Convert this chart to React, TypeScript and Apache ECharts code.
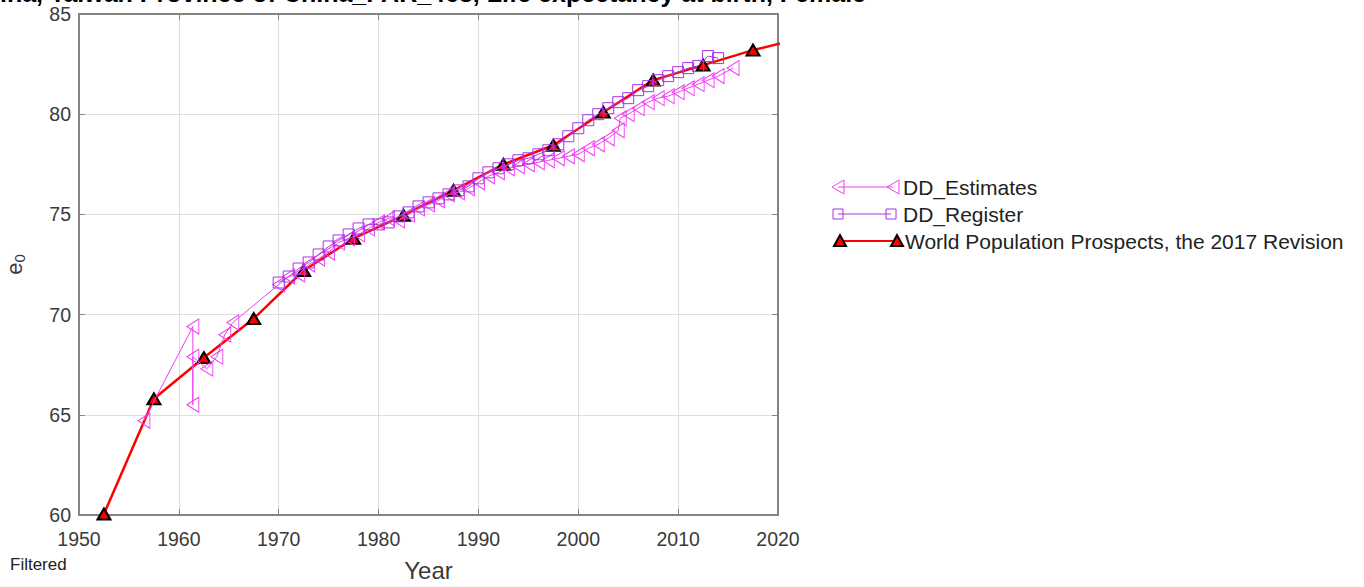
import React, { useEffect, useRef } from "react";
import * as echarts from "echarts";

// ---- Data ----
const wppYears = [1952.5, 1957.5, 1962.5, 1967.5, 1972.5, 1977.5, 1982.5, 1987.5, 1992.5, 1997.5, 2002.5, 2007.5, 2012.5, 2017.5, 2022.5];
const wppValues = [60.05, 65.8, 67.85, 69.8, 72.2, 73.8, 74.95, 76.2, 77.5, 78.45, 80.1, 81.7, 82.45, 83.2, 83.8];

const estYears = [
  1956.5, 1961.4, 1961.4, 1961.4, 1962.8, 1963.8, 1964.6, 1965.4,
  1970, 1971, 1972, 1973, 1974, 1975, 1976, 1977, 1978, 1979, 1980, 1981, 1982, 1983, 1984, 1985, 1986, 1987, 1988, 1989, 1990, 1991, 1992, 1993,
  1994, 1995, 1996, 1997, 1998, 1999, 2000, 2001, 2002, 2003, 2004,
  2004.2, 2005, 2006, 2007, 2008, 2009, 2010, 2011, 2012, 2013, 2014, 2015.5,
];
const estValues = [
  64.7, 69.4, 65.5, 67.9, 67.3, 67.9, 69.0, 69.6,
  71.5, 71.9, 72.0, 72.5, 72.8, 73.1, 73.6, 73.8, 74.0, 74.3, 74.6, 74.8, 74.7, 75.0, 75.3, 75.5, 75.7, 76.0, 76.1, 76.3, 76.6, 76.9, 77.1, 77.3,
  77.4, 77.5, 77.6, 77.7, 77.8, 77.9, 78.0, 78.3, 78.5, 78.8, 79.2,
  79.8, 80.0, 80.3, 80.6, 80.8, 80.9, 81.1, 81.3, 81.5, 81.7, 81.9, 82.3,
];

const regYears = [
  1970, 1971, 1972, 1973, 1974, 1975, 1976, 1977, 1978, 1979, 1980, 1981, 1982, 1983, 1984, 1985, 1986, 1987, 1988, 1989,
  1990, 1991, 1992, 1993, 1994, 1995, 1996, 1997, 1998, 1999, 2000, 2001, 2002, 2003, 2004, 2005, 2006, 2007, 2008, 2009,
  2010, 2011, 2012, 2013, 2014,
];
const regValues = [
  71.6, 71.9, 72.3, 72.6, 73.0, 73.4, 73.7, 74.0, 74.3, 74.5, 74.5, 74.6, 74.9, 75.1, 75.4, 75.6, 75.8, 76.0, 76.2, 76.4,
  76.8, 77.1, 77.3, 77.5, 77.7, 77.8, 78.0, 78.2, 78.5, 78.9, 79.3, 79.7, 80.0, 80.3, 80.6, 80.8, 81.2, 81.4, 81.7, 81.9,
  82.1, 82.3, 82.4, 82.9, 82.8,
];

const xTicks = { min: 1950, max: 2020, interval: 10 };
const yTicks = { min: 60, max: 85, interval: 5 };

const titleText = "China, Taiwan Province of China_PAR_463, Life expectancy at birth, Female";
const legendNames = ["DD_Estimates", "DD_Register", "World Population Prospects, the 2017 Revision"];

const EST_COLOR = "#ee40f0";
const REG_COLOR = "#a834e6";
const WPP_COLOR = "#ff0000";
const AXIS_COLOR = "#858585";
const LABEL_COLOR = "#3a3a3a";
const FONT = "'Liberation Sans', Arial, sans-serif";

const leftTri = "path://M12,0L0,7L12,14Z";

export default function App() {
  const ref = useRef<HTMLDivElement>(null);

  useEffect(() => {
    if (!ref.current) return;
    const chart = echarts.init(ref.current, undefined, { renderer: "svg" });

    const zip = (xs: number[], ys: number[]) => xs.map((x, i) => [x, ys[i]]);

    const axisCommon = {
      type: "value" as const,
      axisLine: { show: true, onZero: false, lineStyle: { color: AXIS_COLOR, width: 2 } },
      axisTick: { show: true, inside: true, length: 6, lineStyle: { color: AXIS_COLOR, width: 1 } },
    };

    const legendY = [187, 214, 241];
    const graphics: any[] = [
      {
        type: "text",
        style: {
          text: titleText,
          x: 866,
          y: 5,
          align: "right",
          verticalAlign: "bottom",
          font: `bold 25px ${FONT}`,
          fill: "#000",
        },
      },
      {
        type: "text",
        style: { text: "Filtered", x: 10, y: 564, verticalAlign: "middle", font: `17px ${FONT}`, fill: "#222" },
      },
      // legend row 1
      { type: "line", shape: { x1: 838, y1: legendY[0], x2: 893, y2: legendY[0] }, style: { stroke: EST_COLOR, lineWidth: 1 } },
      { type: "polygon", shape: { points: [[844, 180], [832, 187], [844, 194]] }, style: { stroke: EST_COLOR, fill: "none", lineWidth: 1 } },
      { type: "polygon", shape: { points: [[899, 180], [887, 187], [899, 194]] }, style: { stroke: EST_COLOR, fill: "none", lineWidth: 1 } },
      // legend row 2
      { type: "line", shape: { x1: 838, y1: legendY[1], x2: 891, y2: legendY[1] }, style: { stroke: REG_COLOR, lineWidth: 1 } },
      { type: "rect", shape: { x: 833, y: 209, width: 10, height: 10 }, style: { stroke: REG_COLOR, fill: "none", lineWidth: 1 } },
      { type: "rect", shape: { x: 886, y: 209, width: 10, height: 10 }, style: { stroke: REG_COLOR, fill: "none", lineWidth: 1 } },
      // legend row 3
      { type: "line", shape: { x1: 840, y1: legendY[2], x2: 897, y2: legendY[2] }, style: { stroke: WPP_COLOR, lineWidth: 2 } },
      { type: "polygon", shape: { points: [[834, 246], [846, 246], [840, 235]] }, style: { stroke: "#000", fill: WPP_COLOR, lineWidth: 2 } },
      { type: "polygon", shape: { points: [[891, 246], [903, 246], [897, 235]] }, style: { stroke: "#000", fill: WPP_COLOR, lineWidth: 2 } },
    ];
    legendNames.forEach((n, i) => {
      graphics.push({
        type: "text",
        style: { text: n, x: i === 2 ? 905 : 903, y: legendY[i], verticalAlign: "middle", font: `21px ${FONT}`, fill: "#222" },
      });
    });

    chart.setOption({
      animation: false,
      backgroundColor: "#ffffff",
      textStyle: { fontFamily: FONT },
      grid: { left: 79, right: 586, top: 14, bottom: 72, containLabel: false, outerBoundsMode: "none" },
      xAxis: [
        {
          ...axisCommon,
          position: "bottom",
          ...xTicks,
          axisLabel: { color: LABEL_COLOR, fontSize: 19.5, margin: 14, fontFamily: FONT, formatter: (v: number) => String(v) },
          splitLine: { show: true, lineStyle: { color: "#dedede", width: 1 } },
          name: "Year",
          nameLocation: "middle",
          nameGap: 43,
          nameTextStyle: { color: LABEL_COLOR, fontSize: 24, fontFamily: FONT },
        },
        {
          ...axisCommon,
          position: "top",
          ...xTicks,
          axisLabel: { show: false },
          splitLine: { show: false },
        },
      ],
      yAxis: [
        {
          ...axisCommon,
          position: "left",
          ...yTicks,
          axisLabel: { color: LABEL_COLOR, fontSize: 19.5, margin: 8, fontFamily: FONT, formatter: (v: number) => String(v) },
          splitLine: { show: true, lineStyle: { color: "#dedede", width: 1 } },
          name: "{e|e}{s|0}",
          nameLocation: "middle",
          nameRotate: 90,
          nameGap: 52,
          nameTextStyle: {
            color: LABEL_COLOR,
            rich: {
              e: { fontSize: 22, color: LABEL_COLOR, fontFamily: FONT },
              s: { fontSize: 15, color: LABEL_COLOR, fontFamily: FONT, padding: [10, 0, 0, 0] },
            },
          },
        },
        {
          ...axisCommon,
          position: "right",
          ...yTicks,
          axisLabel: { show: false },
          splitLine: { show: false },
        },
      ],
      series: [
        {
          name: legendNames[2],
          type: "line",
          data: zip(wppYears, wppValues),
          clip: true,
          symbol: "triangle",
          symbolSize: [13, 11],
          lineStyle: { color: WPP_COLOR, width: 2.5 },
          itemStyle: { color: WPP_COLOR, borderColor: "#000", borderWidth: 2 },
          z: 2,
        },
        {
          name: legendNames[0],
          type: "line",
          data: zip(estYears, estValues),
          clip: true,
          symbol: leftTri,
          symbolSize: [12, 15],
          lineStyle: { color: EST_COLOR, width: 1 },
          itemStyle: { color: "rgba(0,0,0,0)", borderColor: EST_COLOR, borderWidth: 1 },
          z: 3,
        },
        {
          name: legendNames[1],
          type: "line",
          data: zip(regYears, regValues),
          clip: true,
          symbol: "rect",
          symbolSize: 11,
          lineStyle: { color: REG_COLOR, width: 1 },
          itemStyle: { color: "rgba(0,0,0,0)", borderColor: REG_COLOR, borderWidth: 1 },
          z: 4,
        },
      ],
      graphic: graphics,
    });

    return () => chart.dispose();
  }, []);

  return (
    <div
      ref={ref}
      style={{ position: "fixed", left: 0, top: 0, width: 1364, height: 587, background: "#fff" }}
    />
  );
}
